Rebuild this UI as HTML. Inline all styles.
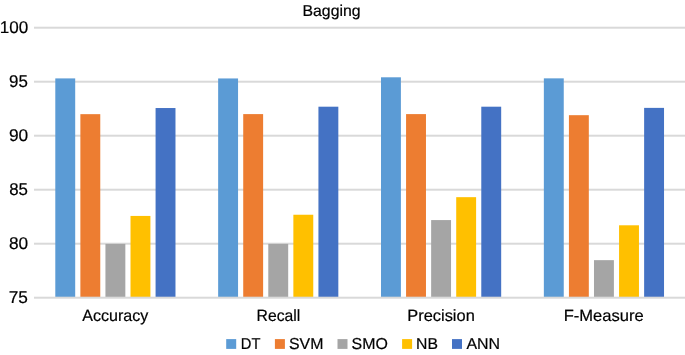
<!DOCTYPE html>
<html><head><meta charset="utf-8">
<style>
html,body{margin:0;padding:0;background:#fff;}
body{width:685px;height:355px;position:relative;overflow:hidden;font-family:"Liberation Sans",sans-serif;color:#000;}
svg{position:absolute;left:0;top:0;}
.tx{filter:opacity(0.999);}
</style></head><body>
<svg width="685" height="355" viewBox="0 0 685 355">
<rect x="34" y="26.70" width="651" height="2.0" fill="#d9d9d9"/>
<rect x="34" y="80.70" width="651" height="2.0" fill="#d9d9d9"/>
<rect x="34" y="134.70" width="651" height="2.0" fill="#d9d9d9"/>
<rect x="34" y="188.70" width="651" height="2.0" fill="#d9d9d9"/>
<rect x="34" y="242.70" width="651" height="2.0" fill="#d9d9d9"/>
<rect x="55.30" y="78.40" width="19.90" height="219.60" fill="#5B9BD5"/>
<rect x="80.37" y="114.16" width="19.90" height="183.84" fill="#ED7D31"/>
<rect x="105.44" y="243.85" width="19.90" height="54.15" fill="#A5A5A5"/>
<rect x="130.51" y="215.93" width="19.90" height="82.07" fill="#FFC000"/>
<rect x="155.58" y="108.03" width="19.90" height="189.97" fill="#4472C4"/>
<rect x="218.15" y="78.45" width="19.90" height="219.55" fill="#5B9BD5"/>
<rect x="243.22" y="114.10" width="19.90" height="183.90" fill="#ED7D31"/>
<rect x="268.29" y="243.85" width="19.90" height="54.15" fill="#A5A5A5"/>
<rect x="293.36" y="214.74" width="19.90" height="83.26" fill="#FFC000"/>
<rect x="318.43" y="106.70" width="19.90" height="191.30" fill="#4472C4"/>
<rect x="381.00" y="77.30" width="19.90" height="220.70" fill="#5B9BD5"/>
<rect x="406.07" y="114.10" width="19.90" height="183.90" fill="#ED7D31"/>
<rect x="431.14" y="220.07" width="19.90" height="77.93" fill="#A5A5A5"/>
<rect x="456.21" y="197.17" width="19.90" height="100.83" fill="#FFC000"/>
<rect x="481.28" y="106.70" width="19.90" height="191.30" fill="#4472C4"/>
<rect x="543.85" y="78.35" width="19.90" height="219.65" fill="#5B9BD5"/>
<rect x="568.92" y="115.18" width="19.90" height="182.82" fill="#ED7D31"/>
<rect x="593.99" y="260.15" width="19.90" height="37.85" fill="#A5A5A5"/>
<rect x="619.06" y="225.29" width="19.90" height="72.71" fill="#FFC000"/>
<rect x="644.13" y="107.88" width="19.90" height="190.12" fill="#4472C4"/>
<rect x="34" y="296.70" width="651" height="2.0" fill="#d9d9d9"/>
<rect x="226.2" y="339.1" width="10" height="9.8" fill="#5B9BD5"/>
<rect x="274.9" y="339.1" width="10" height="9.8" fill="#ED7D31"/>
<rect x="337.5" y="339.1" width="10" height="9.8" fill="#A5A5A5"/>
<rect x="402.1" y="339.1" width="10" height="9.8" fill="#FFC000"/>
<rect x="452.0" y="339.1" width="10" height="9.8" fill="#4472C4"/>
</svg>
<svg class="tx" width="685" height="355" viewBox="0 0 685 355" font-family="Liberation Sans, sans-serif" fill="#000" stroke="#000" stroke-width="0.2" text-rendering="geometricPrecision">
<text transform="translate(302.44,16.00) scale(1.0030,1)" font-size="15.8">Bagging</text>
<text transform="translate(-0.16,33.00) scale(1.0037,1)" font-size="17">100</text>
<text transform="translate(9.06,87.00) scale(0.9938,1)" font-size="17">95</text>
<text transform="translate(8.97,141.00) scale(1.0177,1)" font-size="17">90</text>
<text transform="translate(9.16,195.00) scale(0.9914,1)" font-size="17">85</text>
<text transform="translate(9.01,249.00) scale(1.0150,1)" font-size="17">80</text>
<text transform="translate(8.69,303.00) scale(1.0157,1)" font-size="17">75</text>
<text transform="translate(82.32,321.00) scale(0.9862,1)" font-size="16.3">Accuracy</text>
<text transform="translate(256.57,321.00) scale(0.9644,1)" font-size="16.3">Recall</text>
<text transform="translate(407.28,321.00) scale(1.0077,1)" font-size="16.3">Precision</text>
<text transform="translate(563.68,321.00) scale(1.0167,1)" font-size="16.3">F-Measure</text>
<text transform="translate(240.75,349.00) scale(0.9326,1)" font-size="15.8">DT</text>
<text transform="translate(288.97,349.00) scale(1.0059,1)" font-size="15.8">SVM</text>
<text transform="translate(351.59,349.00) scale(1.0075,1)" font-size="15.8">SMO</text>
<text transform="translate(416.11,349.00) scale(0.9965,1)" font-size="15.8">NB</text>
<text transform="translate(466.49,349.00) scale(1.0084,1)" font-size="15.8">ANN</text>
</svg>
</body></html>
